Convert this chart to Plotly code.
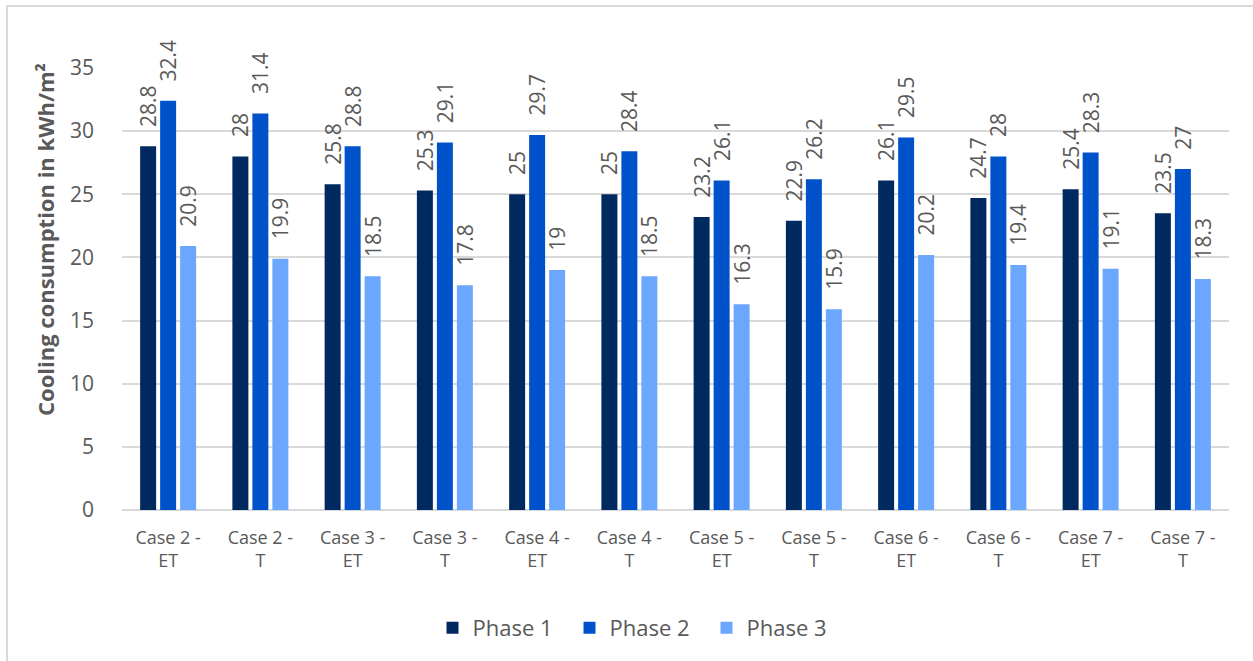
import plotly.graph_objects as go

categories = ["Case 2 -<br>ET", "Case 2 -<br>T", "Case 3 -<br>ET", "Case 3 -<br>T",
              "Case 4 -<br>ET", "Case 4 -<br>T", "Case 5 -<br>ET", "Case 5 -<br>T",
              "Case 6 -<br>ET", "Case 6 -<br>T", "Case 7 -<br>ET", "Case 7 -<br>T"]
phase1 = [28.8, 28, 25.8, 25.3, 25, 25, 23.2, 22.9, 26.1, 24.7, 25.4, 23.5]
phase2 = [32.4, 31.4, 28.8, 29.1, 29.7, 28.4, 26.1, 26.2, 29.5, 28, 28.3, 27]
phase3 = [20.9, 19.9, 18.5, 17.8, 19, 18.5, 16.3, 15.9, 20.2, 19.4, 19.1, 18.3]

series = [("Phase 1", phase1, "#002A5F"),
          ("Phase 2", phase2, "#0052CA"),
          ("Phase 3", phase3, "#6BA6FF")]

FONT = "Open Sans"
GRAY = "#595959"
PAD = "\u00a0\u00a0\u00a0"  # lifts the rotated value labels off the bar tops

fig = go.Figure()
for name, vals, color in series:
    fig.add_trace(go.Bar(
        name=name, x=categories, y=vals,
        marker=dict(color=color, line=dict(width=0)),
        text=[PAD + f"{v:g}" for v in vals],
        textposition="outside", textangle=-90,
        textfont=dict(family=FONT, size=21, color=GRAY),
        constraintext="none",
        cliponaxis=False,
    ))

W, H = 1253, 661
ml, mr, mt, mb = 122, 24, 68, 151
pw, ph = W - ml - mr, H - mt - mb

fig.update_layout(
    width=W, height=H,
    margin=dict(l=ml, r=mr, t=mt, b=mb),
    paper_bgcolor="white", plot_bgcolor="white",
    barmode="group", bargap=0.35, bargroupgap=0.2,
    font=dict(family=FONT, color=GRAY),
    showlegend=True,
    legend=dict(orientation="h", x=(638 - ml) / pw, xanchor="center",
                y=-(628 - 510) / ph, yanchor="middle",
                font=dict(family=FONT, size=22, color=GRAY), itemwidth=30,
                entrywidth=92, entrywidthmode="pixels",
                traceorder="normal"),
    xaxis=dict(tickfont=dict(family=FONT, size=18, color=GRAY), showgrid=False,
               showline=False, ticks="", tickangle=0, ticklabelstandoff=15),
    yaxis=dict(range=[0, 35], dtick=5, showgrid=True, gridcolor="#D9D9D9", gridwidth=1.5,
               zeroline=True, zerolinecolor="#D9D9D9", zerolinewidth=2,
               tickfont=dict(family=FONT, size=21, color=GRAY), ticklabelstandoff=27),
)

# axis title
fig.add_annotation(text="<b>Cooling consumption in kWh/m²</b>", textangle=-90,
                   xref="paper", yref="paper", x=(45 - ml) / pw, y=(510 - 240) / ph,
                   xanchor="center", yanchor="middle", showarrow=False,
                   font=dict(family=FONT, size=22, color=GRAY))

# outer chart frame
fig.add_shape(type="rect", xref="paper", yref="paper",
              x0=(7 - ml) / pw, x1=(W + 10 - ml) / pw,
              y0=-(H + 10 - (H - mb)) / ph, y1=1 + (mt - 6) / ph,
              line=dict(color="#D9D9D9", width=2), fillcolor="rgba(0,0,0,0)", layer="below")

fig.write_html("out.html")
